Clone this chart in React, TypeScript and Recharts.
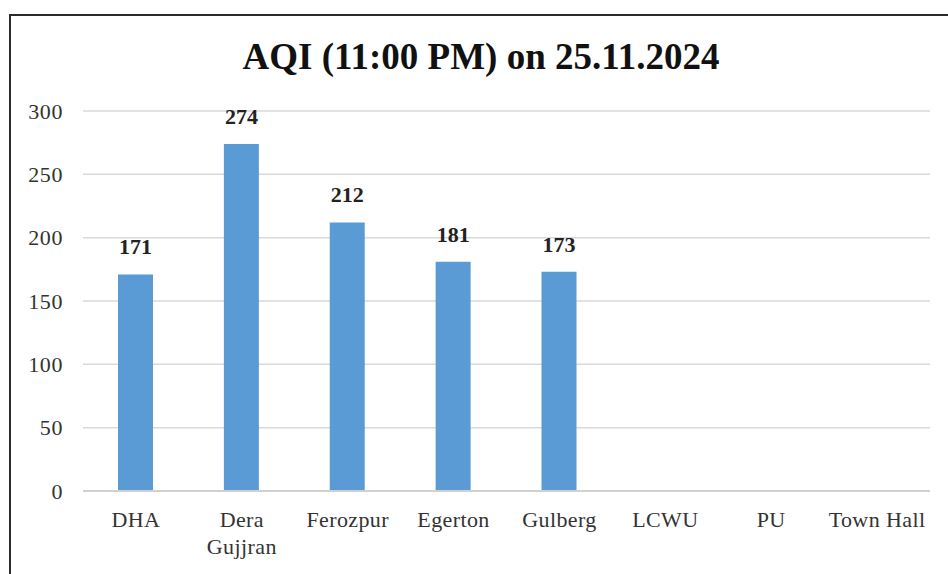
import { Bar, BarChart, CartesianGrid, LabelList, XAxis, YAxis } from "recharts";

const stations = ["DHA", "Dera Gujjran", "Ferozpur", "Egerton", "Gulberg", "LCWU", "PU", "Town Hall"];
const aqi: (number | null)[] = [171, 274, 212, 181, 173, null, null, null];
const yTicks = [0, 50, 100, 150, 200, 250, 300];

const data = stations.map((name, i) => ({ name, aqi: aqi[i] }));

const serif = "'Liberation Serif', 'Times New Roman', serif";

// category labels wrap on the first space only when the name is long
const StationTick = (props: any) => {
  const { x, y, payload } = props;
  const label: string = payload.value;
  const lines = label === "Dera Gujjran" ? ["Dera", "Gujjran"] : [label];
  return (
    <text x={x} y={y} textAnchor="middle" fill="#333" fontSize={22} fontFamily={serif} letterSpacing={0.4}>
      {lines.map((l, i) => (
        <tspan key={l} x={x} dy={i === 0 ? 28 : 27}>
          {l}
        </tspan>
      ))}
    </text>
  );
};

export default function App() {
  return (
    <div style={{ position: "absolute", left: 0, top: 0, width: 948, height: 574, overflow: "hidden", background: "#fff" }}>
      <div
        style={{
          position: "absolute",
          left: 9,
          top: 14,
          width: 980,
          height: 600,
          border: "2px solid #2b2b2b",
        }}
      />
      <div
        style={{
          position: "absolute",
          left: 0,
          width: 962,
          top: 35,
          textAlign: "center",
          fontFamily: serif,
          fontWeight: "bold",
          fontSize: 37,
          color: "#111",
        }}
      >
        AQI (11:00 PM) on 25.11.2024
      </div>
      <div style={{ position: "absolute", left: 0, top: 0 }}>
        <BarChart width={948} height={574} data={data} margin={{ top: 111, right: 18, bottom: 0, left: 0 }}>
          <CartesianGrid vertical={false} stroke="#d9d9d9" strokeWidth={1.5} />
          <XAxis
            dataKey="name"
            tick={<StationTick />}
            tickLine={false}
            axisLine={{ stroke: "#d0d0d0", strokeWidth: 2 }}
            interval={0}
            height={83}
          />
          <YAxis
            domain={[0, 300]}
            ticks={yTicks}
            width={83}
            axisLine={false}
            tickLine={false}
            tickMargin={14}
            tick={{ fontSize: 22, fill: "#333", fontFamily: serif, letterSpacing: 0.6 }}
          />
          <Bar dataKey="aqi" fill="#5b9bd5" barSize={35} isAnimationActive={false}>
            <LabelList
              dataKey="aqi"
              position="top"
              offset={20}
              style={{ fontSize: 22, fontWeight: "bold", fill: "#222", fontFamily: serif }}
            />
          </Bar>
        </BarChart>
      </div>
    </div>
  );
}
